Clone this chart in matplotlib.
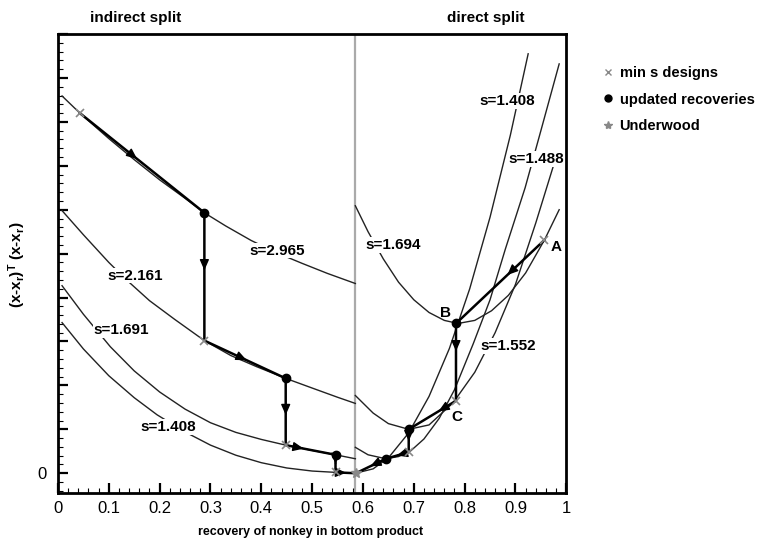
import numpy as np
import matplotlib
matplotlib.use('Agg')
import matplotlib.pyplot as plt
from matplotlib.ticker import MultipleLocator
from matplotlib.lines import Line2D

plt.rcParams['font.family'] = ['Liberation Sans', 'DejaVu Sans']
plt.rcParams['mathtext.default'] = 'regular'

x_split = 0.585

# indirect split curves (left of the split line)
s2965_x = [0.008, 0.043, 0.10, 0.15, 0.20, 0.25, 0.288, 0.33, 0.38, 0.43, 0.48, 0.53, 0.585]
s2965_y = [8.59, 8.20, 7.62, 7.14, 6.68, 6.26, 5.93, 5.63, 5.30, 5.02, 4.78, 4.55, 4.32]

s2161_x = [0.008, 0.05, 0.10, 0.136, 0.18, 0.23, 0.288, 0.34, 0.39, 0.448, 0.50, 0.55, 0.585]
s2161_y = [5.98, 5.43, 4.80, 4.39, 3.93, 3.50, 3.02, 2.68, 2.43, 2.16, 1.94, 1.73, 1.59]

s1691_x = [0.008, 0.05, 0.103, 0.15, 0.20, 0.25, 0.30, 0.35, 0.40, 0.448, 0.50, 0.546, 0.585]
s1691_y = [4.27, 3.62, 2.88, 2.33, 1.85, 1.46, 1.15, 0.93, 0.77, 0.64, 0.52, 0.42, 0.33]

s1408L_x = [0.008, 0.05, 0.10, 0.15, 0.195, 0.25, 0.30, 0.35, 0.40, 0.45, 0.50, 0.546, 0.585]
s1408L_y = [3.43, 2.83, 2.22, 1.72, 1.33, 0.94, 0.64, 0.41, 0.24, 0.12, 0.05, 0.02, 0.0]

# direct split curves (right of the split line)
s1408R_x = [0.585, 0.62, 0.65, 0.69, 0.73, 0.77, 0.81, 0.85, 0.89, 0.925]
s1408R_y = [0.0, 0.10, 0.35, 0.92, 1.75, 2.84, 4.20, 5.83, 7.70, 9.55]

s1488_x = [0.585, 0.61, 0.645, 0.67, 0.694, 0.72, 0.75, 0.78, 0.817, 0.85, 0.88, 0.919, 0.95, 0.986]
s1488_y = [0.59, 0.42, 0.33, 0.38, 0.51, 0.78, 1.25, 1.90, 2.95, 3.95, 5.10, 6.50, 7.80, 9.32]

s1552_x = [0.585, 0.62, 0.65, 0.69, 0.73, 0.777, 0.82, 0.86, 0.90, 0.94, 0.976]
s1552_y = [1.77, 1.37, 1.13, 1.00, 1.10, 1.60, 2.30, 3.20, 4.30, 5.70, 7.05]

s1694_x = [0.585, 0.61, 0.64, 0.67, 0.70, 0.73, 0.76, 0.787, 0.82, 0.853, 0.886, 0.92, 0.957, 0.986]
s1694_y = [6.09, 5.50, 4.88, 4.35, 3.95, 3.66, 3.48, 3.41, 3.48, 3.70, 4.05, 4.56, 5.31, 6.00]

# design paths
path_ind_x = [0.043, 0.288, 0.288, 0.448, 0.448, 0.546, 0.546, 0.586]
path_ind_y = [8.20, 5.93, 3.02, 2.16, 0.64, 0.42, 0.02, 0.0]
path_ind_arrow = [0.44, 0.43, 0.5, 0.53, 0.34, 0.5, 0.5]

path_dir_x = [0.957, 0.783, 0.783, 0.690, 0.690, 0.645, 0.586]
path_dir_y = [5.31, 3.41, 1.65, 1.00, 0.48, 0.33, 0.0]
path_dir_arrow = [0.4, 0.34, 0.35, 0.5, 0.5, 0.5]

mins_x = [0.043, 0.288, 0.448, 0.546, 0.957, 0.783, 0.690]
mins_y = [8.20, 3.02, 0.64, 0.02, 5.31, 1.65, 0.48]
upd_x = [0.288, 0.448, 0.546, 0.783, 0.690, 0.645]
upd_y = [5.93, 2.16, 0.42, 3.41, 1.00, 0.33]
und_x = [0.586]
und_y = [0.0]

labels = [('s=2.965', 0.432, 5.07), ('s=2.161', 0.152, 4.5), ('s=1.691', 0.125, 3.25),
          ('s=1.408', 0.217, 1.05), ('s=1.694', 0.66, 5.2), ('s=1.408', 0.884, 8.48),
          ('s=1.488', 0.941, 7.16), ('s=1.552', 0.886, 2.9)]

fig = plt.figure(figsize=(7.69, 5.49), dpi=100)
ax = fig.add_axes([0.0754, 0.102, 0.661, 0.836])

for cx, cy in [(s2965_x, s2965_y), (s2161_x, s2161_y), (s1691_x, s1691_y), (s1408L_x, s1408L_y),
               (s1408R_x, s1408R_y), (s1488_x, s1488_y), (s1552_x, s1552_y), (s1694_x, s1694_y)]:
    ax.plot(cx, cy, color='#222222', lw=1.0, zorder=2)

ax.axvline(x_split, color='#aaaaaa', lw=1.6, zorder=1)


def draw_path(px, py, fracs):
    ax.plot(px, py, color='k', lw=1.8, zorder=3)
    for i, f in enumerate(fracs):
        x0, y0, x1, y1 = px[i], py[i], px[i + 1], py[i + 1]
        a = (x0 + f * (x1 - x0), y0 + f * (y1 - y0))
        b = (x0 + (f + 0.02) * (x1 - x0), y0 + (f + 0.02) * (y1 - y0))
        ax.annotate('', xy=b, xytext=a, zorder=4,
                    arrowprops=dict(arrowstyle='-|>,head_length=0.8,head_width=0.35',
                                    color='k', lw=1, shrinkA=0, shrinkB=0, mutation_scale=8))


draw_path(path_ind_x, path_ind_y, path_ind_arrow)
draw_path(path_dir_x, path_dir_y, path_dir_arrow)

ax.plot(mins_x, mins_y, 'x', color='#888888', ms=6, mew=1.2, zorder=5)
ax.plot(upd_x, upd_y, 'o', color='k', ms=6, zorder=5)
ax.plot(und_x, und_y, '*', color='#888888', ms=7, zorder=5)

for txt, tx, ty in labels:
    ax.text(tx, ty, txt, ha='center', va='center', fontsize=11, fontweight='bold', zorder=6,
            bbox=dict(facecolor='white', edgecolor='none', pad=0.5))

ax.text(0.98, 5.16, 'A', ha='center', va='center', fontsize=11, fontweight='bold')
ax.text(0.763, 3.64, 'B', ha='center', va='center', fontsize=11, fontweight='bold')
ax.text(0.785, 1.27, 'C', ha='center', va='center', fontsize=11, fontweight='bold')

ax.set_xlim(0, 1)
ax.set_ylim(-0.45, 10)
ax.set_xticks(np.arange(0, 1.01, 0.1))
ax.set_xticklabels(['0', '0.1', '0.2', '0.3', '0.4', '0.5', '0.6', '0.7', '0.8', '0.9', '1'])
ax.xaxis.set_minor_locator(MultipleLocator(0.02))
ax.set_yticks(np.arange(0, 11, 1))
ax.set_yticklabels(['0'] + [''] * 10)
ax.yaxis.set_minor_locator(MultipleLocator(0.2))
ax.tick_params(which='both', direction='in', top=False, right=False, labelsize=12)
ax.tick_params(which='major', length=7, width=1.6)
ax.tick_params(which='minor', length=3.5, width=0.8)
ax.tick_params(axis='x', pad=6)
ax.tick_params(axis='y', pad=8)
for sp in ax.spines.values():
    sp.set_linewidth(2)

fig.text(136 / 769, 1 - 18 / 549, 'indirect split', ha='center', va='center', fontsize=11, fontweight='bold')
fig.text(486 / 769, 1 - 18 / 549, 'direct split', ha='center', va='center', fontsize=11, fontweight='bold')
fig.text(311 / 769, 1 - 532 / 549, 'recovery of nonkey in bottom product', ha='center', va='center',
         fontsize=9, fontweight='bold')
fig.text(17 / 769, 1 - 265 / 549, '(x-x$_r$)$^T$ (x-x$_r$)', ha='center', va='center',
         rotation=90, fontsize=11, fontweight='bold')

handles = [Line2D([], [], marker='x', ls='', color='#888888', ms=5, mew=1),
           Line2D([], [], marker='o', ls='', color='k', ms=5),
           Line2D([], [], marker='*', ls='', color='#888888', ms=6)]
fig.legend(handles, ['min s designs', 'updated recoveries', 'Underwood'], loc='upper left',
           bbox_to_anchor=(589 / 769, 1 - 53 / 549), frameon=False, handlelength=0.8,
           handletextpad=0.4, labelspacing=0.85, prop=dict(weight='bold', size=10.5))

fig.savefig('out.png', dpi=100)
